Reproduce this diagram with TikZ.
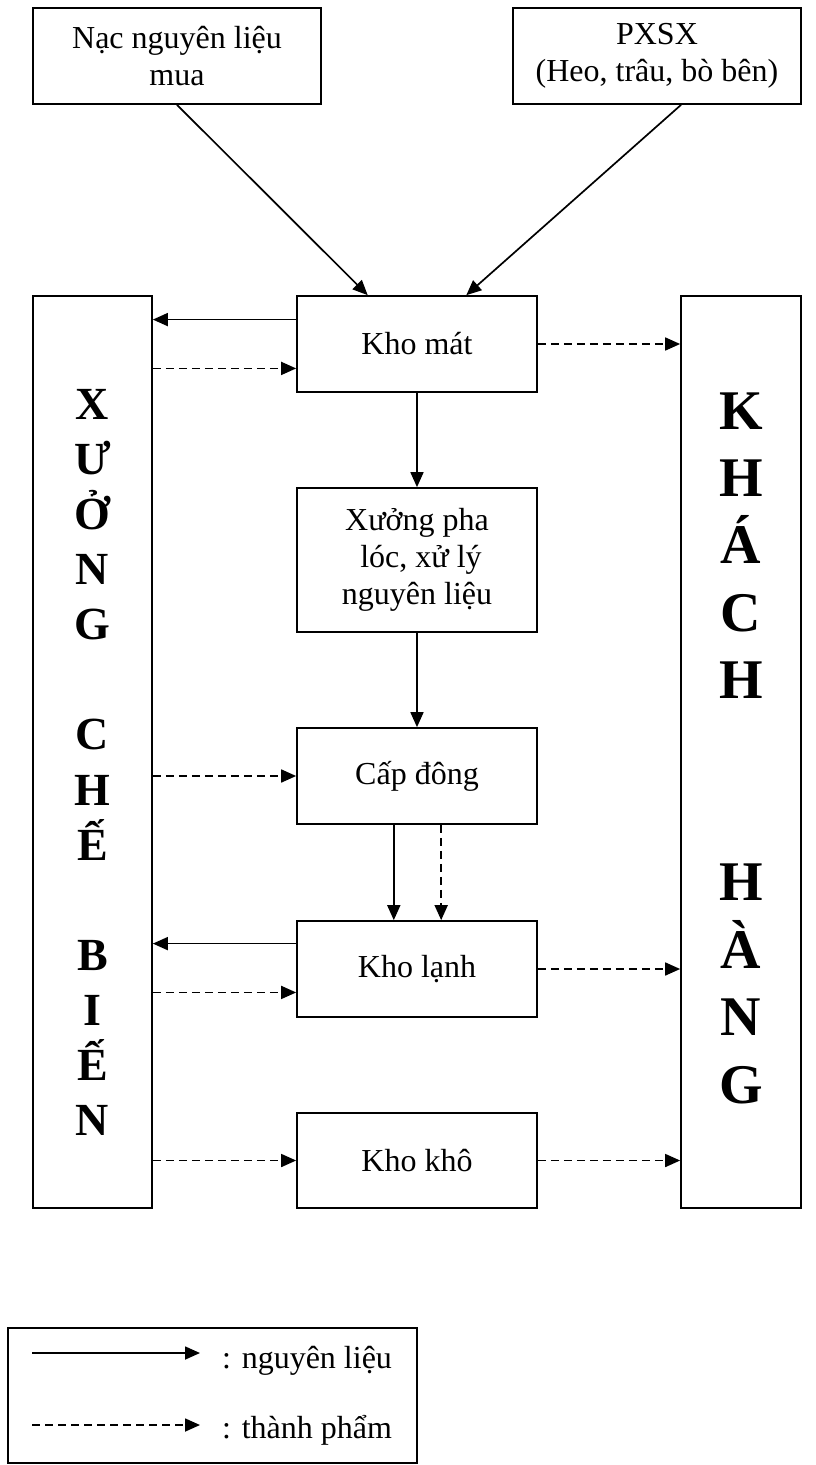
\documentclass[tikz,border=0pt]{standalone}
\usepackage{fontspec}
\setmainfont{Liberation Serif}
\usetikzlibrary{arrows.meta,calc}
\begin{document}
\begin{tikzpicture}[x=1pt,y=-1pt,
  box/.style={draw,line width=1.7pt,rectangle,inner sep=0pt,align=center,
    font=\fontsize{32}{37}\selectfont},
  bigbox/.style={draw,line width=1.7pt,rectangle,inner sep=0pt,
    minimum width=119pt,minimum height=912pt},
  flow/.style={line width=1.7pt,-{Triangle[length=15pt,width=13pt]}},
  prod/.style={flow,dash pattern=on 8pt off 5pt},
  leftletter/.style={font=\fontsize{46}{55}\selectfont\bfseries,anchor=base,inner sep=0pt},
  rightletter/.style={font=\fontsize{56}{67}\selectfont\bfseries,anchor=base,inner sep=0pt},
  legendtext/.style={font=\fontsize{32}{37}\selectfont,anchor=base west,inner sep=0pt}
]
\useasboundingbox (0,0) rectangle (815,1465);

% sources
\node[box,minimum width=288pt,minimum height=96pt] (nac) at (177,56) {Nạc nguyên liệu\\mua};
\node[box,minimum width=288pt,minimum height=96pt] (pxsx) at (657,56) {PXSX\\(Heo, trâu, bò bên)};

% central chain
\node[box,minimum width=240pt,minimum height=96pt] (khomat) at (417,344) {Kho mát};
\node[box,minimum width=240pt,minimum height=144pt] (xuong) at (417,560) {Xưởng pha\\\hspace*{8pt}lóc, xử lý\\nguyên liệu};
\node[box,minimum width=240pt,minimum height=96pt] (capdong) at (417,776) {Cấp đông};
\node[box,minimum width=240pt,minimum height=96pt] (kholanh) at (417,969) {Kho lạnh};
\node[box,minimum width=240pt,minimum height=95pt] (khokho) at (417,1160.5) {Kho khô};

% side columns
\node[bigbox] (xcb) at (92.5,752) {};
\node[bigbox,minimum width=120pt] (kh) at (741,752) {};

\foreach \ch/\k in {X/0,Ư/1,Ở/2,N/3,G/4,C/6,H/7,Ế/8,B/10,I/11,Ế/12,N/13}
  \node[leftletter] (xl\k) at (92.5,{419+\k*55.15}) {\ch};
\foreach \ch/\k in {K/0,H/1,Á/2,C/3,H/4,H/7,À/8,N/9,G/10}
  \node[rightletter] (kl\k) at (741,{429+\k*67.4}) {\ch};

% inputs to Kho mát
\draw[flow] (nac.south) -- ($(khomat.north west)!0.296!(khomat.north east)$);
\draw[flow] ($(pxsx.south west)!0.583!(pxsx.south east)$) -- ($(khomat.north west)!0.704!(khomat.north east)$);

% Kho mát links
\coordinate (km1) at ($(khomat.north west)!0.25!(khomat.south west)$);
\coordinate (km2) at ($(khomat.north west)!0.75!(khomat.south west)$);
\draw[flow] (km1) -- (km1 -| xcb.east);
\draw[prod] (km2 -| xcb.east) -- (km2);
\draw[prod] (khomat.east) -- (khomat.east -| kh.west);

% main flow downwards
\draw[flow] (khomat.south) -- (xuong.north);
\draw[flow] (xuong.south) -- (capdong.north);
\draw[prod] (capdong.west -| xcb.east) -- (capdong.west);

\coordinate (cd1) at ($(capdong.south west)!0.404!(capdong.south east)$);
\coordinate (cd2) at ($(capdong.south west)!0.6!(capdong.south east)$);
\draw[flow] (cd1) -- (cd1 |- kholanh.north);
\draw[prod] (cd2) -- (cd2 |- kholanh.north);

% Kho lạnh links
\coordinate (kl1) at ($(kholanh.north west)!0.24!(kholanh.south west)$);
\coordinate (kl2) at ($(kholanh.north west)!0.74!(kholanh.south west)$);
\draw[flow] (kl1) -- (kl1 -| xcb.east);
\draw[prod] (kl2 -| xcb.east) -- (kl2);
\draw[prod] (kholanh.east) -- (kholanh.east -| kh.west);

% Kho khô links
\draw[prod] (khokho.west -| xcb.east) -- (khokho.west);
\draw[prod] (khokho.east) -- (khokho.east -| kh.west);

% legend
\draw[line width=1.7pt] (8,1328) rectangle (417,1463);
\coordinate (ls1) at (32,1353);
\coordinate (le1) at (200,1353);
\coordinate (ls2) at (32,1425);
\coordinate (le2) at (200,1425);
\draw[flow] (ls1) -- (le1);
\draw[prod] (ls2) -- (le2);
\node[legendtext] (lt1) at (222,1368) {: nguyên liệu};
\node[legendtext] (lt2) at (222,1438) {: thành phẩm};
\end{tikzpicture}
\end{document}
